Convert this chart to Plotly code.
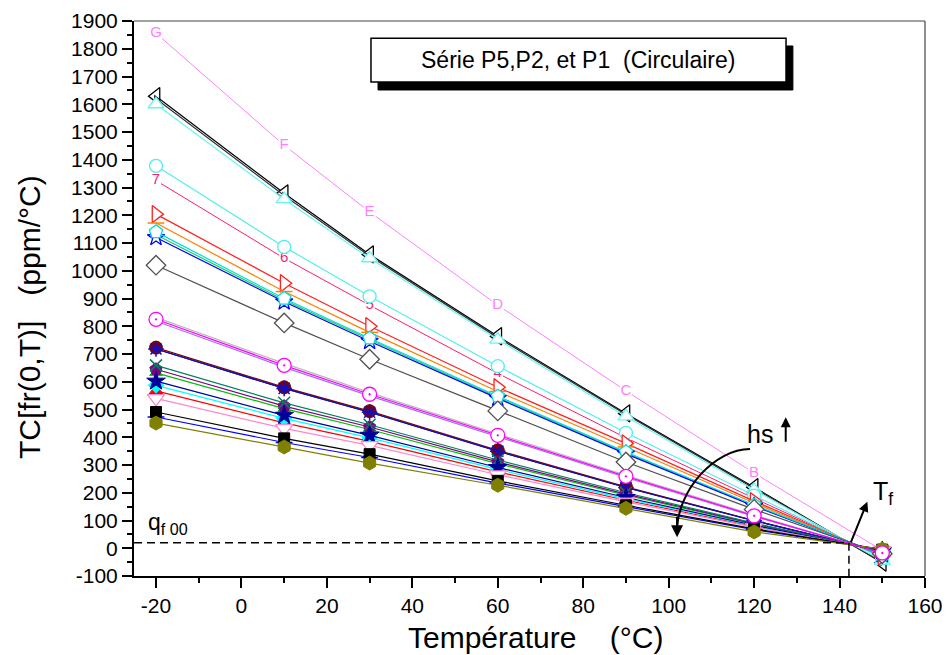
import plotly.graph_objects as go

# ---------------- data ----------------
temperature = [-20, 10, 30, 60, 90, 120, 150]

letters = ["G", "F", "E", "D", "C", "B", "A"]
digits = ["7", "6", "5", "4", "3", "2", "1"]

tc_letters = [1856, 1452, 1212, 876, 567, 271, -8]
tc_black_tri = [1629, 1279, 1059, 764, 486, 220, -52]
tc_dark_tri = [1620, 1271, 1053, 759, 482, 216, -50]
tc_cyan_tri = [1600, 1258, 1045, 752, 475, 210, -45]
tc_cyan_circle = [1378, 1086, 908, 656, 416, 190, -36]
tc_digits = [1325, 1045, 876, 630, 398, 180, -32]
tc_red_tri = [1204, 955, 800, 580, 378, 170, -29]
tc_orange = [1172, 925, 778, 565, 365, 163, -27]
tc_cyan_pent = [1140, 900, 757, 548, 347, 156, -25]
tc_green = [1130, 894, 752, 544, 344, 154, -24]
tc_blue_star_o = [1120, 888, 746, 540, 340, 152, -23]
tc_diamond = [1020, 812, 681, 495, 311, 140, -20]
tc_gray = [832, 666, 561, 411, 263, 120, -17]
tc_violet = [818, 652, 549, 402, 255, 115, -16]
tc_magenta = [825, 659, 555, 407, 259, 117, -17]
tc_maroon = [723, 580, 494, 353, 221, 100, -13]
tc_navy = [718, 576, 490, 350, 219, 99, -13]
tc_teal_x = [659, 524, 445, 318, 200, 91, -11]
tc_purple_pent = [645, 512, 437, 311, 195, 89, -10]
tc_green_tri = [632, 503, 428, 305, 191, 87, -10]
tc_red_tri_f = [567, 452, 385, 275, 173, 79, -8]
tc_cyan_diam = [587, 468, 398, 284, 178, 81, -8]
tc_blue_star = [602, 479, 407, 291, 183, 83, -9]
tc_pink_tri = [540, 432, 371, 265, 167, 76, -7]
tc_black_sq = [491, 396, 339, 243, 155, 70, -5]
tc_blue_dash = [473, 381, 327, 235, 150, 67, -5]
tc_olive_hex = [451, 365, 307, 227, 144, 59, -3]

x_ticks = [-20, 0, 20, 40, 60, 80, 100, 120, 140, 160]
x_ticklabels = ["-20", "0", "20", "40", "60", "80", "100", "120", "140", "160"]
y_ticks = list(range(-100, 1901, 100))
y_ticklabels = [str(v) for v in y_ticks]

# level of the dashed reference lines
qf00_level = 20
tf_temp = 142.2

# ---------------- styles ----------------
# (values, colour, symbol, size, filled)
series = [
    (tc_black_tri, "#000000", "triangle-left", 15, False),
    (tc_dark_tri, "#333333", "triangle-right", 6, True),
    (tc_cyan_tri, "#66F5F5", "triangle-up", 14, False),
    (tc_cyan_circle, "#55EEEE", "circle", 13, False),
    (tc_red_tri, "#FF2020", "triangle-right", 15, False),
    (tc_orange, "#FF8000", "line-ew", 12, False),
    (tc_green, "#22D060", "circle", 6, True),
    (tc_blue_star_o, "#0000FF", "star", 13, False),
    (tc_cyan_pent, "#00DDDD", "pentagon", 14, False),
    (tc_diamond, "#505050", "diamond", 15, False),
    (tc_gray, "#B8B8B8", "circle", 4, True),
    (tc_violet, "#A070FF", "circle", 4, True),
    (tc_navy, "#000080", "circle", 4, True),
    (tc_maroon, "#800000", "circle", 13, True),
    (tc_navy, "#1010C0", "asterisk-open", 13, False),
    (tc_green_tri, "#00C000", "triangle-up", 11, True),
    (tc_purple_pent, "#800080", "pentagon", 13, True),
    (tc_teal_x, "#008060", "x-thin-open", 12, False),
    (tc_red_tri_f, "#FF0000", "triangle-up", 12, True),
    (tc_cyan_diam, "#00FFFF", "diamond", 12, True),
    (tc_blue_star, "#000099", "star", 14, True),
    (tc_pink_tri, "#FF88CC", "triangle-down", 15, False),
    (tc_blue_dash, "#0000FF", "line-ew", 12, False),
    (tc_black_sq, "#000000", "square", 11, True),
    (tc_olive_hex, "#808000", "hexagon", 14, True),
    (tc_magenta, "#FF00FF", "circle-dot", 14, False),
]

font_main = "Liberation Sans, Arial, sans-serif"

fig = go.Figure()

# letter series (drawn first)
fig.add_trace(go.Scatter(
    x=temperature, y=tc_letters, mode="lines+markers+text",
    text=letters, textposition="middle center",
    textfont=dict(family=font_main, size=15, color="#FF7FFF"),
    line=dict(color="#FF7FFF", width=1),
    marker=dict(symbol="square", size=12, color="white", line=dict(width=0)),
    showlegend=False, hoverinfo="skip"))

# digit series
fig.add_trace(go.Scatter(
    x=temperature, y=tc_digits, mode="lines+markers+text",
    text=digits, textposition="middle center",
    textfont=dict(family=font_main, size=15, color="#FF1C6E"),
    line=dict(color="#FF1C6E", width=1),
    marker=dict(symbol="square", size=10, color="white", line=dict(width=0)),
    showlegend=False, hoverinfo="skip"))

for vals, col, sym, size, filled in series:
    if sym in ("line-ew", "asterisk-open", "x-thin-open"):
        marker = dict(symbol=sym, size=size, color=col, line=dict(color=col, width=1.5))
    elif filled:
        marker = dict(symbol=sym, size=size, color=col, line=dict(color=col, width=1))
    else:
        marker = dict(symbol=sym, size=size, color="white", line=dict(color=col, width=1.3))
    fig.add_trace(go.Scatter(
        x=temperature, y=vals, mode="lines+markers",
        line=dict(color=col, width=1.2), marker=marker,
        showlegend=False, hoverinfo="skip"))

# ---------------- reference lines ----------------
fig.add_shape(type="line", xref="x", yref="y", x0=-25.15, x1=tf_temp,
              y0=qf00_level, y1=qf00_level,
              line=dict(color="black", width=1.5, dash="8px,5px"))
fig.add_shape(type="line", xref="x", yref="y", x0=tf_temp, x1=tf_temp,
              y0=qf00_level, y1=-100,
              line=dict(color="black", width=1.5, dash="8px,5px"))

# curved hs arrow
fig.add_shape(type="path", xref="x", yref="y",
              path="M 119.04,357.7 C 110.85,357.7 101.96,209.9 101.96,60",
              line=dict(color="black", width=2))
fig.add_annotation(x=101.96, y=40, ax=0, ay=-22, xref="x", yref="y",
                   text="", showarrow=True, arrowhead=2, arrowsize=1.2,
                   arrowwidth=2, arrowcolor="black", standoff=0)
# hs up arrow
fig.add_annotation(x=127.4, y=472, ax=0, ay=26, xref="x", yref="y",
                   text="", showarrow=True, arrowhead=2, arrowsize=1,
                   arrowwidth=2, arrowcolor="black", standoff=0)
# Tf arrow
fig.add_annotation(x=146.5, y=168, ax=-17, ay=42, xref="x", yref="y",
                   text="", showarrow=True, arrowhead=2, arrowsize=1,
                   arrowwidth=2, arrowcolor="black", standoff=0)

fig.add_annotation(x=121.4, y=411, xref="x", yref="y", text="hs",
                   xanchor="center", yanchor="middle",
                   showarrow=False, font=dict(family=font_main, size=25, color="black"))
fig.add_annotation(x=147.4, y=200, xref="x", yref="y", xanchor="left", yanchor="middle",
                   text="T<sub>f</sub>", showarrow=False,
                   font=dict(family=font_main, size=25, color="black"))
fig.add_annotation(x=-22.3, y=88, xref="x", yref="y", xanchor="left", yanchor="middle",
                   text="q<sub>f 00</sub>", showarrow=False,
                   font=dict(family=font_main, size=23, color="black"))

# ---------------- title box ----------------
fig.add_shape(type="rect", xref="paper", yref="paper",
              x0=0.3085, x1=0.833, y0=0.8757, y1=0.955,
              fillcolor="black", line=dict(color="black", width=1))
fig.add_shape(type="rect", xref="paper", yref="paper",
              x0=0.2996, x1=0.8243, y0=0.890, y1=0.969,
              fillcolor="white", line=dict(color="black", width=1.5))
fig.add_annotation(x=0.5613, y=0.9297, xref="paper", yref="paper",
                   xanchor="center", yanchor="middle",
                   text="Série P5,P2, et P1  (Circulaire)", showarrow=False,
                   font=dict(family=font_main, size=23, color="black"))

# frame top / right
fig.add_shape(type="line", xref="paper", yref="paper", x0=0, x1=1, y0=1, y1=1,
              line=dict(color="#444444", width=1.2))
fig.add_shape(type="line", xref="paper", yref="paper", x0=1, x1=1, y0=0, y1=1,
              line=dict(color="#444444", width=1.2))

# axis titles
fig.add_annotation(x=0.507, y=-0.11, xref="paper", yref="paper",
                   xanchor="center", yanchor="middle",
                   text="Température    (°C)", showarrow=False,
                   font=dict(family=font_main, size=30, color="black"))
fig.add_annotation(x=-0.1315, y=0.4667, xref="paper", yref="paper",
                   xanchor="center", yanchor="middle",
                   text="TC[fr(0,T)]   (ppm/°C)", showarrow=False, textangle=-90,
                   font=dict(family=font_main, size=30, color="black"))

fig.update_layout(
    width=947, height=655,
    margin=dict(l=134, r=22, t=21, b=79, autoexpand=False),
    paper_bgcolor="white", plot_bgcolor="white",
    showlegend=False,
    xaxis=dict(range=[-25.15, 160], tickvals=x_ticks, ticktext=x_ticklabels,
               automargin=False, ticklabeloverflow="allow",
               showgrid=False, zeroline=False,
               showline=True, linecolor="black", linewidth=2,
               ticks="outside", ticklen=10, tickwidth=2, tickcolor="black",
               minor=dict(ticks="outside", ticklen=5, tickwidth=2, dtick=10,
                          tick0=0, tickcolor="black", showgrid=False),
               tickfont=dict(family=font_main, size=21, color="black")),
    yaxis=dict(range=[-100, 1900], tickvals=y_ticks, ticktext=y_ticklabels,
               automargin=False, ticklabeloverflow="allow",
               showgrid=False, zeroline=False,
               showline=True, linecolor="black", linewidth=2,
               ticks="outside", ticklen=10, tickwidth=2, tickcolor="black",
               minor=dict(ticks="outside", ticklen=5, tickwidth=2, dtick=50,
                          tick0=0, tickcolor="black", showgrid=False),
               tickfont=dict(family=font_main, size=21, color="black")),
)

# remove the default page margin so the 947x655 figure fills the window exactly
fig.write_html("out.html",
               config={"displayModeBar": False},
               post_script="document.body.style.margin='0';"
                           "document.body.style.overflow='hidden';")
